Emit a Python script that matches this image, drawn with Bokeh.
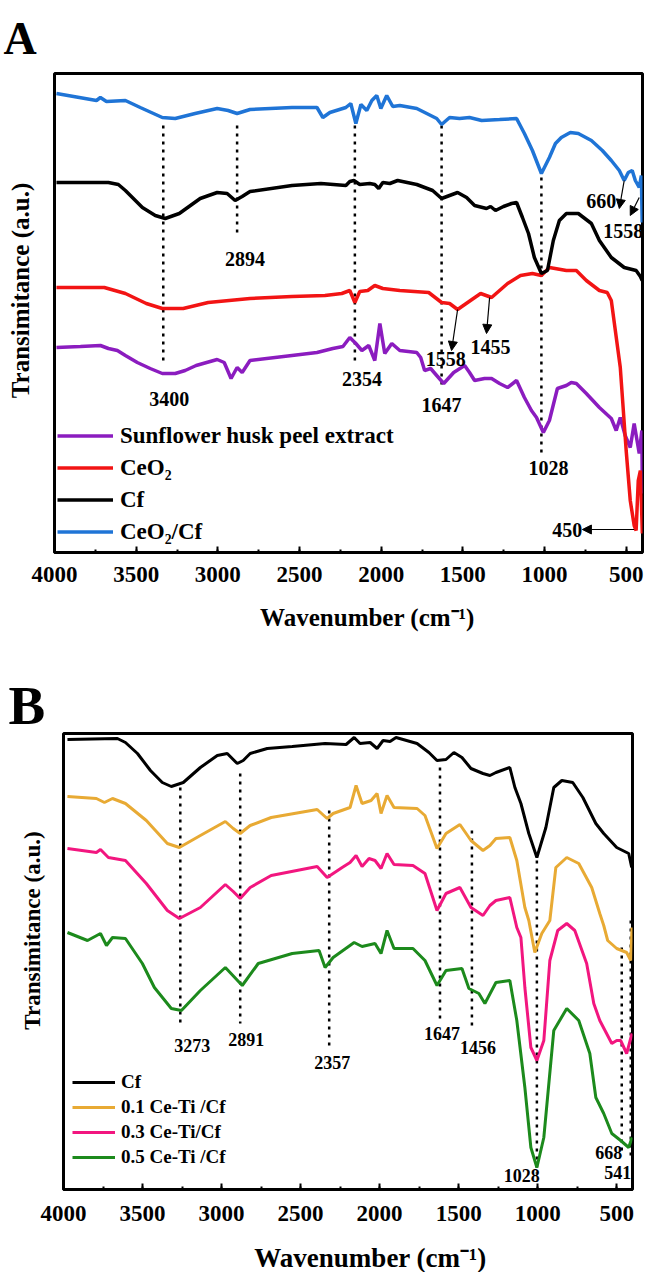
import math
from bokeh.plotting import figure
from bokeh.models import (Range1d, SingleIntervalTicker, Legend, LegendItem,
                          Arrow, NormalHead, ColumnDataSource, GridBox)
from bokeh.layouts import column, row
from bokeh.core.properties import value
from bokeh.embed import file_html
from bokeh.resources import INLINE

SERIF = "Liberation Serif"

# ---------------- Panel A data (wavenumber cm-1, transmittance a.u.) ----------------
A_CEO2_CF = [(3988,4.59),(3743,4.52),(3719,4.55),(3682,4.51),(3566,4.52),(3475,4.45),(3340,4.35),
             (3261,4.34),(3139,4.39),(3004,4.44),(2937,4.42),(2882,4.39),(2803,4.43),(2546,4.45),
             (2393,4.45),(2357,4.35),(2314,4.40),(2216,4.45),(2186,4.49),(2155,4.29),(2124,4.48),
             (2088,4.42),(2057,4.52),(2027,4.57),(2002,4.44),(1966,4.57),(1929,4.46),(1886,4.47),
             (1782,4.44),(1660,4.34),(1630,4.28),(1581,4.35),(1520,4.34),(1459,4.35),(1385,4.32),
             (1275,4.33),(1171,4.34),(1123,4.19),(1074,4.02),(1019,3.79),(970,3.95),(933,4.09),
             (897,4.15),(842,4.20),(793,4.19),(713,4.12),(646,4.02),(591,3.92),(542,3.82),(512,3.72),
             (487,3.80),(463,3.82),(444,3.72),(420,3.65),(407,3.77),(402,3.30)]
A_CF = [(3988,3.70),(3670,3.70),(3609,3.68),(3566,3.62),(3462,3.45),(3383,3.37),(3322,3.34),
        (3236,3.39),(3108,3.54),(3004,3.60),(2943,3.59),(2894,3.52),(2851,3.56),(2803,3.61),
        (2546,3.67),(2369,3.69),(2216,3.67),(2192,3.71),(2167,3.72),(2131,3.68),(2070,3.69),
        (2039,3.68),(2015,3.64),(1990,3.70),(1947,3.69),(1899,3.72),(1782,3.68),(1685,3.62),
        (1630,3.54),(1581,3.57),(1532,3.60),(1477,3.55),(1428,3.47),(1355,3.44),(1330,3.46),
        (1300,3.42),(1251,3.46),(1202,3.49),(1171,3.50),(1135,3.35),(1098,3.19),(1062,2.95),
        (1019,2.79),(982,2.82),(946,3.12),(909,3.32),(866,3.39),(793,3.39),(713,3.29),(664,3.12),
        (591,2.95),(512,2.85),(439,2.82),(413,2.76),(402,2.72)]
A_CEO2 = [(3988,2.65),(3695,2.65),(3566,2.59),(3438,2.49),(3340,2.44),(3212,2.44),(3059,2.50),
          (2803,2.54),(2546,2.56),(2344,2.57),(2241,2.59),(2192,2.62),(2161,2.50),(2131,2.61),
          (2082,2.62),(2039,2.67),(1990,2.64),(1886,2.62),(1709,2.60),(1630,2.50),(1581,2.49),
          (1532,2.43),(1453,2.52),(1391,2.59),(1324,2.55),(1226,2.69),(1147,2.77),(1074,2.79),
          (1019,2.77),(970,2.85),(866,2.82),(805,2.82),(744,2.72),(664,2.62),(616,2.60),(591,2.52),
          (536,1.85),(500,1.02),(475,0.52),(451,0.27),(439,0.22),(426,0.72),(413,0.82),(407,0.52),
          (401,0.19)]
A_EXTRACT = [(3988,2.05),(3841,2.06),(3719,2.07),(3670,2.04),(3615,2.02),(3566,1.97),(3493,1.90),
             (3414,1.84),(3340,1.79),(3261,1.79),(3200,1.82),(3133,1.87),(3004,1.93),(2961,1.90),
             (2919,1.74),(2882,1.85),(2851,1.80),(2803,1.92),(2546,1.97),(2393,2.00),(2296,2.04),
             (2234,2.06),(2192,2.15),(2155,2.09),(2118,2.02),(2076,2.07),(2039,1.92),(2008,2.29),
             (1978,1.99),(1935,2.09),(1886,2.02),(1782,2.00),(1758,1.95),(1734,1.82),(1697,1.84),
             (1660,1.77),(1617,1.69),(1556,1.80),(1489,1.87),(1459,1.80),(1428,1.72),(1367,1.74),
             (1324,1.74),(1275,1.69),(1226,1.65),(1171,1.72),(1123,1.55),(1080,1.42),(1049,1.35),
             (1007,1.20),(970,1.32),(921,1.64),(866,1.67),(836,1.70),(805,1.69),(744,1.59),(664,1.45),
             (591,1.34),(561,1.22),(536,1.35),(506,1.17),(475,1.05),(451,1.29),(420,0.99),(404,1.22),
             (401,0.59)]

A_SERIES_NAMES = ["Sunflower husk peel extract", "CeO\u2082", "Cf", "CeO\u2082/Cf"]
A_SERIES_COLORS = ["#8B1CBF", "#F21414", "#000000", "#1F74D6"]

A_PEAK_W = [3334, 2882, 2161, 1630, 1019]
A_PEAK_TOP = [4.27, 4.27, 4.27, 4.27, 3.75]
A_PEAK_BOT = [1.90, 3.15, 1.90, 1.64, 1.00]

A_LABELS = ["2894", "3400", "2354", "1647", "1028", "1558", "1455", "660", "1558", "450"]
A_LABEL_W = [2833, 3297, 2118, 1630, 976, 1605, 1330, 652, 518, 860]
A_LABEL_T = [2.94, 1.54, 1.74, 1.48, 0.85, 1.94, 2.06, 3.52, 3.22, 0.23]

A_ARROW_W0 = [1532, 1336, 512, 420, 451]
A_ARROW_T0 = [2.43, 2.55, 3.72, 3.55, 0.23]
A_ARROW_W1 = [1569, 1355, 542, 475, 768]
A_ARROW_T1 = [2.02, 2.19, 3.44, 3.37, 0.23]

# ---------------- Panel B data ----------------
B_CF = [(3975,4.50),(3659,4.51),(3608,4.47),(3532,4.36),(3450,4.19),(3375,4.07),(3318,4.03),
        (3242,4.07),(3134,4.22),(3027,4.34),(2964,4.36),(2901,4.26),(2863,4.29),(2819,4.36),
        (2711,4.41),(2553,4.43),(2345,4.46),(2212,4.45),(2161,4.52),(2124,4.46),(2060,4.47),
        (2016,4.41),(1978,4.49),(1934,4.48),(1896,4.52),(1763,4.46),(1688,4.37),(1637,4.29),
        (1580,4.30),(1530,4.37),(1479,4.32),(1422,4.21),(1346,4.16),(1302,4.14),(1264,4.17),
        (1176,4.22),(1144,4.02),(1106,3.86),(1056,3.56),(1005,3.32),(948,3.62),(898,4.02),
        (847,4.09),(778,4.07),(714,3.92),(632,3.66),(582,3.56),(500,3.42),(424,3.36),(405,3.22)]
B_01 = [(3975,3.93),(3792,3.91),(3741,3.87),(3690,3.91),(3608,3.86),(3476,3.69),(3343,3.46),
        (3267,3.42),(3134,3.54),(2976,3.68),(2926,3.61),(2882,3.56),(2819,3.64),(2686,3.72),
        (2395,3.80),(2332,3.71),(2294,3.76),(2187,3.82),(2149,4.04),(2111,3.86),(2054,3.89),
        (2016,3.96),(1991,3.76),(1953,3.94),(1909,3.82),(1763,3.81),(1713,3.74),(1637,3.41),
        (1580,3.56),(1492,3.65),(1422,3.49),(1346,3.39),(1302,3.44),(1264,3.51),(1176,3.52),
        (1132,3.29),(1081,2.82),(1056,2.69),(1018,2.37),(974,2.56),(923,2.69),(885,3.22),
        (816,3.32),(740,3.26),(658,3.02),(607,2.76),(582,2.64),(557,2.49),(500,2.41),(437,2.37),
        (411,2.29),(403,2.62)]
B_03 = [(3975,3.41),(3792,3.37),(3766,3.40),(3716,3.32),(3608,3.29),(3476,3.06),(3343,2.79),
        (3267,2.71),(3134,2.82),(2976,3.05),(2926,2.98),(2882,2.91),(2819,3.02),(2686,3.14),
        (2395,3.23),(2332,3.12),(2237,3.22),(2187,3.27),(2149,3.34),(2111,3.23),(2067,3.31),
        (2029,3.29),(1991,3.21),(1953,3.36),(1909,3.25),(1789,3.24),(1713,3.16),(1637,2.79),
        (1580,2.96),(1492,3.02),(1422,2.82),(1346,2.74),(1302,2.84),(1264,2.89),(1176,2.92),
        (1132,2.62),(1106,2.52),(1081,2.02),(1043,1.42),(1005,1.29),(961,1.49),(923,2.29),
        (873,2.59),(816,2.66),(765,2.59),(690,2.26),(645,1.86),(607,1.69),(531,1.46),(500,1.49),
        (475,1.49),(437,1.36),(403,1.56)]
B_05 = [(3975,2.57),(3848,2.49),(3766,2.56),(3728,2.44),(3690,2.52),(3608,2.51),(3501,2.26),
        (3425,2.02),(3318,1.81),(3254,1.79),(3134,1.99),(2976,2.22),(2869,2.04),(2768,2.26),
        (2553,2.36),(2383,2.39),(2345,2.22),(2294,2.32),(2161,2.47),(2111,2.43),(2029,2.46),
        (1991,2.36),(1953,2.59),(1909,2.41),(1789,2.41),(1713,2.29),(1637,2.04),(1580,2.19),
        (1479,2.21),(1435,2.01),(1372,1.96),(1334,1.86),(1264,2.07),(1176,2.09),(1132,1.69),
        (1081,1.02),(1043,0.42),(1005,0.22),(961,0.52),(898,1.59),(816,1.81),(740,1.69),
        (670,1.36),(632,0.92),(582,0.76),(531,0.56),(475,0.49),(424,0.42),(403,0.52)]

B_SERIES_NAMES = ["Cf", "0.1 Ce-Ti /Cf", "0.3 Ce-Ti/Cf", "0.5 Ce-Ti /Cf"]
B_SERIES_COLORS = ["#000000", "#E8AA34", "#F2167F", "#1C8A1C"]

B_PEAK_W = [3261, 2882, 2319, 1618, 1416, 1005, 468, 411]
B_PEAK_TOP = [4.02, 4.16, 3.79, 4.22, 3.59, 3.29, 2.42, 2.69]
B_PEAK_BOT = [1.62, 1.66, 1.39, 1.66, 1.59, 0.16, 0.39, 0.29]

B_LABELS = ["3273", "2891", "2357", "1647", "1456", "1028", "668", "541"]
B_LABEL_W = [3185, 2844, 2300, 1606, 1378, 1100, 550, 494]
B_LABEL_T = [1.44, 1.50, 1.27, 1.56, 1.42, 0.14, 0.37, 0.17]

PANEL_LETTERS = ["A", "B"]
X_TITLE = "Wavenumber (cm\u207b\u00b9)"
Y_TITLE = "Transimitance (a.u.)"

PAGE_W, PAGE_H = 650, 1272


def base_fig(height, ymax, mbl, mbr, mbt, mbb):
    p = figure(width=PAGE_W, height=height, x_range=Range1d(4000, 400), y_range=Range1d(0, ymax),
               output_backend="svg", toolbar_location=None,
               min_border_left=mbl, min_border_right=mbr, min_border_top=mbt, min_border_bottom=mbb)
    p.grid.visible = False
    p.yaxis.visible = False
    p.outline_line_color = "black"
    p.outline_line_width = 3
    p.outline_line_alpha = 1
    p.background_fill_color = "white"
    p.border_fill_color = "white"
    ax = p.xaxis[0]
    ax.ticker = SingleIntervalTicker(interval=500, num_minor_ticks=2)
    ax.axis_line_width = 3
    ax.major_tick_in = 6
    ax.major_tick_out = 0
    ax.minor_tick_in = 3
    ax.minor_tick_out = 0
    ax.major_tick_line_width = 2
    ax.minor_tick_line_width = 2
    ax.major_label_text_font = SERIF
    ax.major_label_text_font_style = "bold"
    ax.major_label_text_font_size = "23px"
    ax.major_label_text_color = "black"
    return p


def add_series(p, pairs, color, width):
    src = ColumnDataSource(dict(w=[a for a, b in pairs], t=[b for a, b in pairs]))
    return p.line("w", "t", source=src, line_color=color, line_width=width)


def add_peaks(p, ws, tops, bots):
    src = ColumnDataSource(dict(w=ws, top=tops, bot=bots))
    p.segment(x0="w", y0="top", x1="w", y1="bot", source=src, line_color="black",
              line_width=2.5, line_dash="3 5")


def add_labels(p, ws, ts, texts, size):
    src = ColumnDataSource(dict(w=ws, t=ts, s=texts))
    p.text(x="w", y="t", text="s", source=src, text_font=value(SERIF), text_font_style="bold",
           text_font_size=size, text_align="center", text_baseline="middle", text_color="black")


def make_legend(p, names, renderers, loc, glyph_w, row_h, font_size, standoff):
    items = [LegendItem(label=n, renderers=[r]) for n, r in zip(names, renderers)]
    lg = Legend(items=items, location=loc, orientation="vertical")
    lg.background_fill_alpha = 0
    lg.border_line_alpha = 0
    lg.padding = 0
    lg.margin = 0
    lg.spacing = 1
    lg.glyph_width = glyph_w
    lg.glyph_height = row_h
    lg.label_height = row_h
    lg.label_standoff = standoff
    lg.label_text_font = SERIF
    lg.label_text_font_style = "bold"
    lg.label_text_font_size = font_size
    lg.label_text_color = "black"
    p.add_layout(lg)


# ---------------- Panel A ----------------
pA = base_fig(650, 4.79, 54, 8, 73, 98)
pA.xaxis.major_label_standoff = 14

add_peaks(pA, A_PEAK_W, A_PEAK_TOP, A_PEAK_BOT)
rA = [add_series(pA, s, c, 3.5)
      for s, c in zip([A_EXTRACT, A_CEO2, A_CF, A_CEO2_CF], A_SERIES_COLORS)]
add_labels(pA, A_LABEL_W, A_LABEL_T, A_LABELS, "20px")
arr_src = ColumnDataSource(dict(x0=A_ARROW_W0, y0=A_ARROW_T0, x1=A_ARROW_W1, y1=A_ARROW_T1))
pA.add_layout(Arrow(end=NormalHead(size=9, fill_color="black", line_color="black"),
                    x_start="x0", y_start="y0", x_end="x1", y_end="y1", source=arr_src,
                    line_width=1.2, line_color="black"))
make_legend(pA, A_SERIES_NAMES, rA, (3, 5), 56, 31, "23px", 7)

# ---------------- Panel B ----------------
pB = base_fig(PAGE_H - 650, 4.56, 63, 18, 83, 83)
pB.xaxis.major_label_standoff = 16

add_peaks(pB, B_PEAK_W, B_PEAK_TOP, B_PEAK_BOT)
rB = [add_series(pB, s, c, 3) for s, c in zip([B_CF, B_01, B_03, B_05], B_SERIES_COLORS)]
add_labels(pB, B_LABEL_W, B_LABEL_T, B_LABELS, "18px")
make_legend(pB, B_SERIES_NAMES, rB, (9, 20), 43, 24, "19px", 6)

# ---------------- transparent overlay: letters and axis titles (page pixels, y up) ----------------
ov = figure(width=PAGE_W, height=PAGE_H, x_range=Range1d(0, PAGE_W), y_range=Range1d(0, PAGE_H),
            output_backend="svg", toolbar_location=None, min_border=0)
ov.axis.visible = False
ov.grid.visible = False
ov.outline_line_color = None
ov.background_fill_alpha = 0
ov.border_fill_alpha = 0

letters = ColumnDataSource(dict(x=[3, 8], y=[PAGE_H - 38, PAGE_H - 705], s=PANEL_LETTERS,
                                size=["46px", "55px"]))
ov.text(x="x", y="y", text="s", source=letters, text_font=value(SERIF), text_font_style="bold",
        text_font_size="size", text_align="left", text_baseline="alphabetic", text_color="black")

ytitles = ColumnDataSource(dict(x=[20, 32], y=[PAGE_H - 290, PAGE_H - 930], s=[Y_TITLE, Y_TITLE],
                                size=["25px", "23px"]))
ov.text(x="x", y="y", text="s", source=ytitles, text_font=value(SERIF), text_font_style="bold",
        text_font_size="size", text_align="center", text_baseline="middle", angle=math.pi / 2,
        text_color="black")

xtitles = ColumnDataSource(dict(x=[367, 370], y=[PAGE_H - 617, PAGE_H - 1257], s=[X_TITLE, X_TITLE],
                                size=["25px", "27px"]))
ov.text(x="x", y="y", text="s", source=xtitles, text_font=value(SERIF), text_font_style="bold",
        text_font_size="size", text_align="center", text_baseline="middle", text_color="black")

main = column(row(pA), row(pB))
page = GridBox(children=[(main, 0, 0), (ov, 0, 0)])
open("out.html", "w").write(file_html(page, INLINE))
